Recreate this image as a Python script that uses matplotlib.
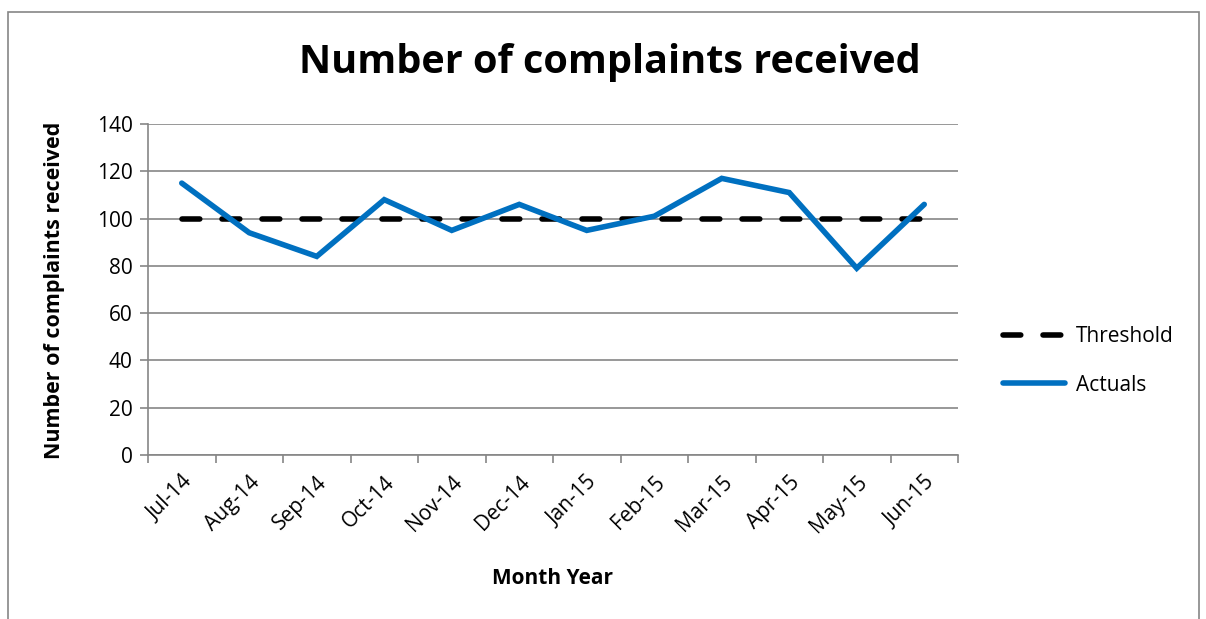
import matplotlib
matplotlib.use("Agg")
import matplotlib.pyplot as plt
from matplotlib.patches import Rectangle

months = ["Jul-14", "Aug-14", "Sep-14", "Oct-14", "Nov-14", "Dec-14",
          "Jan-15", "Feb-15", "Mar-15", "Apr-15", "May-15", "Jun-15"]
actuals = [115, 94, 84, 108, 95, 106, 95, 101, 117, 111, 79, 106]
threshold = [100] * 12
yticks = [0, 20, 40, 60, 80, 100, 120, 140]

plt.rcParams['font.family'] = ['Open Sans', 'DejaVu Sans']

fig = plt.figure(figsize=(12.06, 6.19), dpi=100)
fig.patches.append(Rectangle((8/1206, -0.01), (1199-8)/1206, 1 - 12/619 + 0.01,
                             transform=fig.transFigure, fill=False,
                             edgecolor='#868686', linewidth=1.2))
ax = fig.add_axes([148/1206, 1 - 455/619, (958-148)/1206, (455-124)/619])

x = list(range(len(months)))
ax.plot(x, threshold, color='black', linewidth=4, linestyle=(0, (3.2, 4.0)),
        dash_capstyle='round', label='Threshold')
ax.plot(x, actuals, color='#0070C0', linewidth=4, solid_capstyle='round',
        solid_joinstyle='miter', label='Actuals')

ax.set_xlim(-0.5, len(months) - 0.5)
ax.set_ylim(0, 140)
ax.set_yticks(yticks)
ax.yaxis.grid(True, color='#868686', linewidth=1.2)
ax.set_axisbelow(True)

ax.set_xticks([i - 0.5 for i in range(len(months) + 1)])
ax.set_xticklabels([])
ax.set_xticks(x, minor=True)
ax.set_xticklabels(months, minor=True, rotation=45, ha='right',
                   rotation_mode='anchor', fontsize=15)
ax.tick_params(axis='x', which='minor', length=0, pad=12)
ax.tick_params(axis='x', which='major', length=6, color='#868686', width=1.2)
ax.tick_params(axis='y', length=6, color='#868686', width=1.2, labelsize=15, pad=5)

for s in ['top', 'right']:
    ax.spines[s].set_visible(False)
for s in ['left', 'bottom']:
    ax.spines[s].set_color('#868686')
    ax.spines[s].set_linewidth(1.2)

ax.set_ylabel('Number of complaints received', fontsize=15.5, fontweight='bold')
ax.yaxis.set_label_coords(55/1206, 1 - 290/619, transform=fig.transFigure)
ax.set_xlabel('Month Year', fontsize=15, fontweight='bold')
ax.xaxis.set_label_coords(553/1206, 1 - 578/619, transform=fig.transFigure)
ax.xaxis.label.set_va('center')
ax.yaxis.label.set_va('center')
fig.text(610/1206, 1 - 63/619, 'Number of complaints received', fontsize=28.5,
         fontweight='bold', ha='center', va='center')

leg = fig.legend(loc='center left', bbox_to_anchor=(984/1206, 1 - 361/619),
                 frameon=False, fontsize=15, handlelength=3.0, handletextpad=0.5,
                 labelspacing=1.3)

fig.savefig('out.png', dpi=100)
